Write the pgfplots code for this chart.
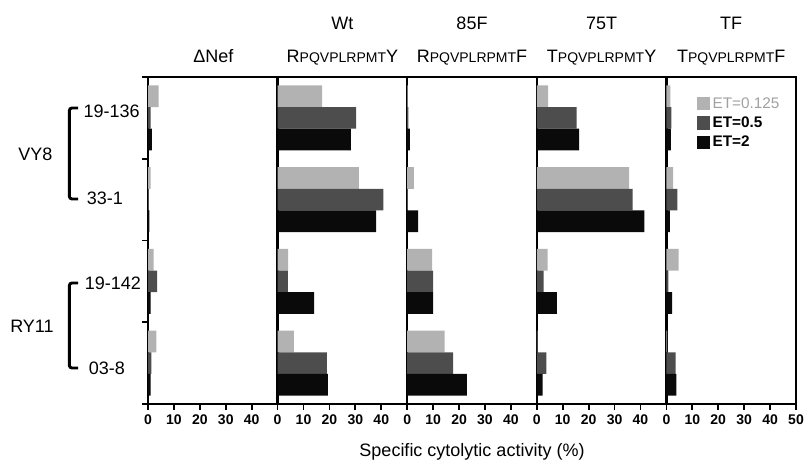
\documentclass[border=0pt]{standalone}
\usepackage{pgfplots}
\pgfplotsset{compat=1.18}
\usepackage{pgfplotstable}
\usepackage{fontspec}
\setmainfont{Liberation Sans}
\definecolor{lightbar}{HTML}{B2B2B2}
\definecolor{darkbar}{HTML}{4D4D4D}
\definecolor{blackbar}{HTML}{0A0A0A}
\definecolor{legray}{HTML}{A0A0A0}

% y: 4 = 19-136, 3 = 33-1, 2 = 19-142, 1 = 03-8
\pgfplotstableread{
y light dark black
4 4.1 1.0 1.5
3 1.0 0.3 0.5
2 2.2 3.5 1.0
1 3.2 1.3 1.0
}\dnef
\pgfplotstableread{
y light dark black
4 17.2 30.3 28.3
3 31.4 40.8 38.0
2 4.1 4.0 14.1
1 6.3 19.0 19.4
}\wt
\pgfplotstableread{
y light dark black
4 0.2 0.5 1.0
3 2.6 0.3 4.2
2 9.6 10.0 10.0
1 14.4 17.7 23.0
}\ff
\pgfplotstableread{
y light dark black
4 4.4 15.4 16.3
3 35.6 37.0 41.5
2 4.2 2.6 7.7
1 0.2 3.7 2.2
}\st
\pgfplotstableread{
y light dark black
4 1.5 1.9 1.7
3 2.6 4.2 1.3
2 4.7 0.8 2.2
1 0.3 3.6 3.8
}\tf

\pgfplotsset{
  panel/.style={
    scale only axis, width=97.2pt, height=245.25pt,
    xmin=0, xmax=50, ymin=0.5, ymax=4.5,
    anchor=south west,
    axis line style={line width=1.9pt, black},
    tick pos=left, tick align=outside, major tick length=4.5pt,
    xtick={0,10,20,30,40}, ytick=\empty,
    tick style={line width=1.3pt, black},
    xticklabel style={font=\fontsize{10.5}{11}\selectfont\bfseries},
    /pgf/number format/assume math mode=true,
  },
  lbar/.style={xbar, bar shift=16.3pt, bar width=16.3pt, fill=lightbar, draw=none,
    legend image code/.code={\fill[lightbar] (0pt,-5pt) rectangle (10pt,5pt);}},
  dbar/.style={xbar, bar shift=0pt, bar width=16.3pt, fill=darkbar, draw=none,
    legend image code/.code={\fill[darkbar] (0pt,-5pt) rectangle (10pt,5pt);}},
  kbar/.style={xbar, bar shift=-16.3pt, bar width=16.3pt, fill=blackbar, draw=none,
    legend image code/.code={\fill[blackbar] (0pt,-5pt) rectangle (10pt,5pt);}},
}

\begin{document}
\begin{tikzpicture}
\useasboundingbox (0,0) rectangle (603pt,349.5pt);

\begin{axis}[panel, at={(111pt,46.5pt)}, ytick={0.5,1.5,2.5,3.5,4.5}, yticklabels={{},{},{},{},{}}]
\addplot[lbar] table[x=light,y=y] {\dnef};
\addplot[dbar] table[x=dark,y=y] {\dnef};
\addplot[kbar] table[x=black,y=y] {\dnef};
\end{axis}

\begin{axis}[panel, at={(208.2pt,46.5pt)}]
\addplot[lbar] table[x=light,y=y] {\wt};
\addplot[dbar] table[x=dark,y=y] {\wt};
\addplot[kbar] table[x=black,y=y] {\wt};
\end{axis}

\begin{axis}[panel, at={(305.4pt,46.5pt)}]
\addplot[lbar] table[x=light,y=y] {\ff};
\addplot[dbar] table[x=dark,y=y] {\ff};
\addplot[kbar] table[x=black,y=y] {\ff};
\end{axis}

\begin{axis}[panel, at={(402.6pt,46.5pt)}]
\addplot[lbar] table[x=light,y=y] {\st};
\addplot[dbar] table[x=dark,y=y] {\st};
\addplot[kbar] table[x=black,y=y] {\st};
\end{axis}

\begin{axis}[panel, at={(499.8pt,46.5pt)}, xtick={0,10,20,30,40,50},
  legend style={draw=none, fill=none, at={(0.2,0.955)}, anchor=north west,
    font=\fontsize{11.5}{13}\selectfont, row sep=1pt},
  legend cell align=left]
\addplot[lbar] table[x=light,y=y] {\tf};
\addplot[dbar] table[x=dark,y=y] {\tf};
\addplot[kbar] table[x=black,y=y] {\tf};
\legend{\textcolor{legray}{ET=0.125}, \textbf{ET=0.5}, \textbf{ET=2}}
\end{axis}

% headers
\begin{scope}[every node/.style={anchor=base, font=\fontsize{13.5}{16}\selectfont, inner sep=0pt}]
\node at (256.8pt,327pt) {Wt};
\node at (354pt,327pt) {85F};
\node at (451.2pt,327pt) {75T};
\node at (548.4pt,327pt) {TF};
\node at (160pt,302.25pt) {ΔNef};
\node at (256.8pt,302.25pt) {R{\fontsize{10.5}{12}\selectfont PQVPLRPMT}Y};
\node at (354pt,302.25pt) {R{\fontsize{10.5}{12}\selectfont PQVPLRPMT}F};
\node at (451.2pt,302.25pt) {T{\fontsize{10.5}{12}\selectfont PQVPLRPMT}Y};
\node at (548.4pt,302.25pt) {T{\fontsize{10.5}{12}\selectfont PQVPLRPMT}F};
\node at (354pt,6.75pt) {Specific cytolytic activity (\%)};
\end{scope}

% row labels
\begin{scope}[every node/.style={anchor=base west, font=\fontsize{13.5}{16}\selectfont, inner sep=0pt}]
\node at (62.5pt,261pt) {19-136};
\node at (65pt,195.75pt) {33-1};
\node at (63.5pt,132pt) {19-142};
\node at (66.5pt,68.25pt) {03-8};
\node at (13.5pt,228.75pt) {VY8};
\node at (7.5pt,99.75pt) {RY11};
\end{scope}

\draw[line width=2.2pt, rounded corners=2pt] (58.5pt,268.5pt) -- (52pt,268.5pt) -- (52pt,200.25pt) -- (58.5pt,200.25pt);
\draw[line width=2.2pt, rounded corners=2pt] (58.5pt,137.25pt) -- (52pt,137.25pt) -- (52pt,73.5pt) -- (58.5pt,73.5pt);
\end{tikzpicture}
\end{document}
